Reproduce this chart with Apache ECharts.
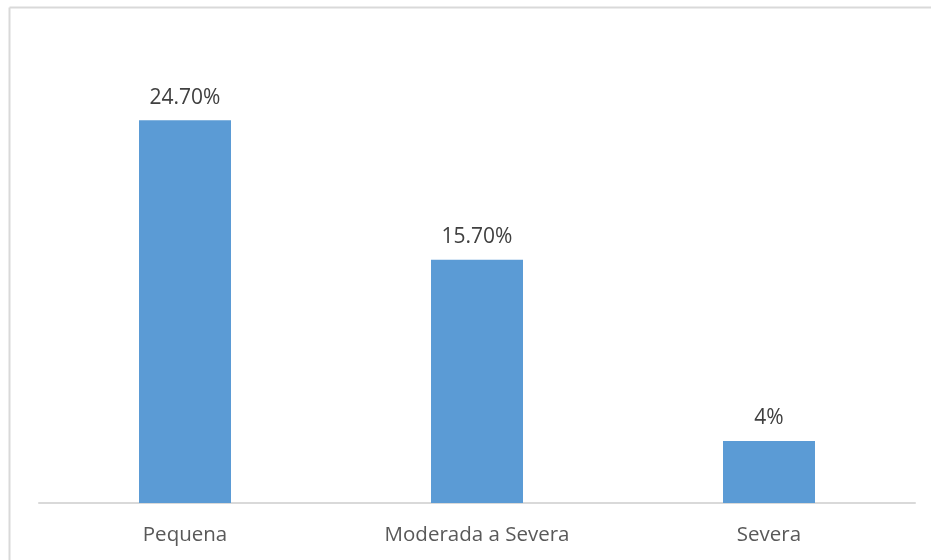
<!DOCTYPE html>
<html><head><meta charset="utf-8">
<script src="https://cdn.jsdelivr.net/npm/echarts@6/dist/echarts.min.js"></script>
<style>html,body{margin:0;padding:0;background:#fff}#c{width:931px;height:560px}</style>
</head><body><div id="c"></div>
<script>
const categories = ["Pequena", "Moderada a Severa", "Severa"];
const values = [24.7, 15.7, 4];
const valueLabels = ["24.70%", "15.70%", "4%"];

const chart = echarts.init(document.getElementById('c'), null, {renderer: 'canvas'});
chart.setOption({
  animation: false,
  backgroundColor: '#fff',
  graphic: [
    {type: 'line', shape: {x1: 9.5, y1: 7.5, x2: 931, y2: 7.5}, style: {stroke: '#d9d9d9', lineWidth: 2}},
    {type: 'line', shape: {x1: 9.5, y1: 7.5, x2: 9.5, y2: 560}, style: {stroke: '#d9d9d9', lineWidth: 2}}
  ],
  grid: {left: 39, right: 16, top: 38, bottom: 57},
  xAxis: {
    type: 'category', data: categories,
    axisLine: {lineStyle: {color: '#d9d9d9', width: 2}},
    axisTick: {show: false},
    axisLabel: {color: '#595959', fontSize: 20.5, fontFamily: 'Open Sans', margin: 22}
  },
  yAxis: {type: 'value', min: 0, max: 30, show: false, splitLine: {show: false}},
  series: [{
    type: 'bar', data: values, barWidth: 92,
    itemStyle: {color: '#5b9bd5'},
    label: {show: true, position: 'top', distance: 12, color: '#404040', fontSize: 21, fontFamily: 'Open Sans',
      formatter: p => valueLabels[p.dataIndex]}
  }]
});
</script></body></html>
